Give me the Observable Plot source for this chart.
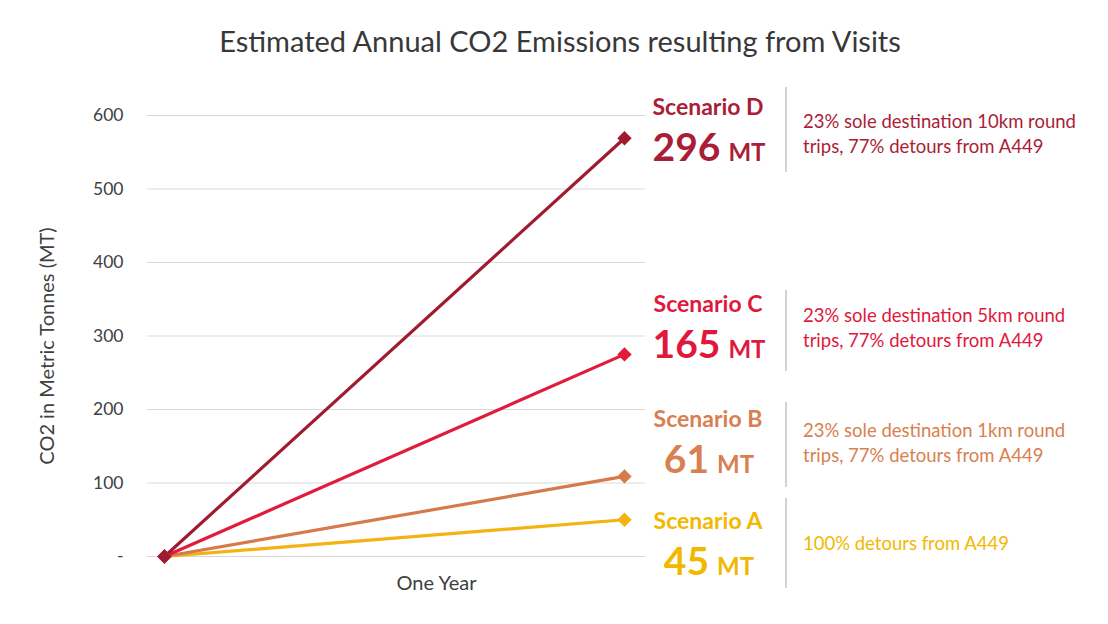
<!DOCTYPE html>
<html><head><meta charset="utf-8">
<script src="https://cdn.jsdelivr.net/npm/d3@7"></script>
<script src="https://cdn.jsdelivr.net/npm/@observablehq/plot@0.6"></script>
<style>
body{margin:0;background:#fff;font-family:Lato,"Open Sans",sans-serif;}
#wrap{width:1108px;height:624px;position:relative;overflow:hidden;background:#fff}
#title{padding-top:27px;line-height:28px;font-size:29px;color:#383838;text-align:center;padding-left:12px;white-space:nowrap;box-sizing:content-box;height:53px}
#chart svg{display:block}
</style></head><body><div id="wrap"><div id="title"></div><div id="chart"></div></div>
<script>
// ---- data ----
const title = "Estimated Annual CO2 Emissions resulting from Visits";
const scenarios = ["Scenario A", "Scenario B", "Scenario C", "Scenario D"];
const periods = [0, 1];
const startValues = [0, 0, 0, 0];
const endValues = [50, 109, 275, 569];
const annualTotals = ["45", "61", "165", "296"];
const unitLabel = "MT";
const descriptions = [
  ["100% detours from A449"],
  ["23% sole destination 1km round", "trips, 77% detours from A449"],
  ["23% sole destination 5km round", "trips, 77% detours from A449"],
  ["23% sole destination 10km round", "trips, 77% detours from A449"]
];
const yTicks = [0, 100, 200, 300, 400, 500, 600];
const xTickLabel = "One Year";
const yAxisLabel = "CO2 in Metric Tonnes (MT)";

// ---- styles ----
const lineColors = ["#f3b312", "#d67a4c", "#e11b3c", "#9e1c32"];
const textColors = ["#f2b800", "#d8804f", "#e0183d", "#a91e36"];
const FONT = "Lato, 'Open Sans', sans-serif";

document.getElementById("title").textContent = title;

const rows = scenarios.flatMap((s, i) => [
  {scenario: s, t: periods[0], value: startValues[i]},
  {scenario: s, t: periods[1], value: endValues[i]}
]);

// annotation layout (page pixel coordinates; svg starts 80px below page top)
const OY = -80;
const layout = [
  {nameY: 529, numY: 575, sepTop: 498, sepBot: 588, descY: [550]},
  {nameY: 427, numY: 473, sepTop: 402, sepBot: 487, descY: [437, 462]},
  {nameY: 312, numY: 358, sepTop: 290, sepBot: 371, descY: [322, 347]},
  {nameY: 115, numY: 161, sepTop: 87, sepBot: 172, descY: [128, 153]}
];

function annotations() {
  const g = d3.create("svg:g").attr("font-family", FONT);
  // y axis title
  g.append("text").attr("transform", `translate(54,${346 + OY}) rotate(-90)`)
    .attr("text-anchor", "middle").attr("font-size", 20).attr("fill", "#404040").text(yAxisLabel);
  scenarios.forEach((s, i) => {
    const L = layout[i], c = textColors[i];
    g.append("text").attr("x", 708).attr("y", L.nameY + OY).attr("text-anchor", "middle")
      .attr("font-weight", "bold").attr("font-size", 23).attr("fill", c).text(s);
    const t = g.append("text").attr("x", 709).attr("y", L.numY + OY).attr("text-anchor", "middle")
      .attr("font-weight", "bold").attr("fill", c);
    t.append("tspan").attr("font-size", 39).text(annualTotals[i]);
    t.append("tspan").attr("font-size", 24).attr("dx", 8).text(unitLabel);
    g.append("line").attr("x1", 786).attr("x2", 786).attr("y1", L.sepTop + OY).attr("y2", L.sepBot + OY)
      .attr("stroke", "#a6a6a6").attr("stroke-width", 1);
    descriptions[i].forEach((d, j) => g.append("text").attr("x", 803).attr("y", L.descY[j] + OY)
      .attr("text-anchor", "start").attr("font-size", 18.5).attr("fill", c).text(d));
  });
  return g.node();
}

const chart = Plot.plot({
  width: 1108,
  height: 544,
  marginTop: 35,
  marginBottom: 68,
  marginLeft: 147,
  marginRight: 463,
  style: {fontFamily: FONT, background: "white"},
  x: {domain: [-0.0369, 1.0457], axis: null},
  y: {domain: [0, 600]},
  color: {domain: scenarios, range: lineColors},
  marks: [
    Plot.ruleY(yTicks, {stroke: "#d9d9d9", strokeWidth: 1}),
    Plot.axisY({ticks: yTicks, tickSize: 0, tickPadding: 24, fontSize: 17.5, color: "#404040", label: null,
      tickFormat: d => d === 0 ? "-" : String(d)}),
    Plot.text([xTickLabel], {frameAnchor: "bottom-left", dx: 289, dy: 33, textAnchor: "middle", fontSize: 20, fill: "#404040"}),
    Plot.line(rows, {x: "t", y: "value", z: "scenario", stroke: "scenario", strokeWidth: 3.2}),
    Plot.dot(rows, {x: "t", y: "value", fill: "scenario", symbol: "diamond2", r: 6.5, stroke: "none"}),
    annotations
  ]
});
document.getElementById("chart").appendChild(chart);
</script></body></html>
